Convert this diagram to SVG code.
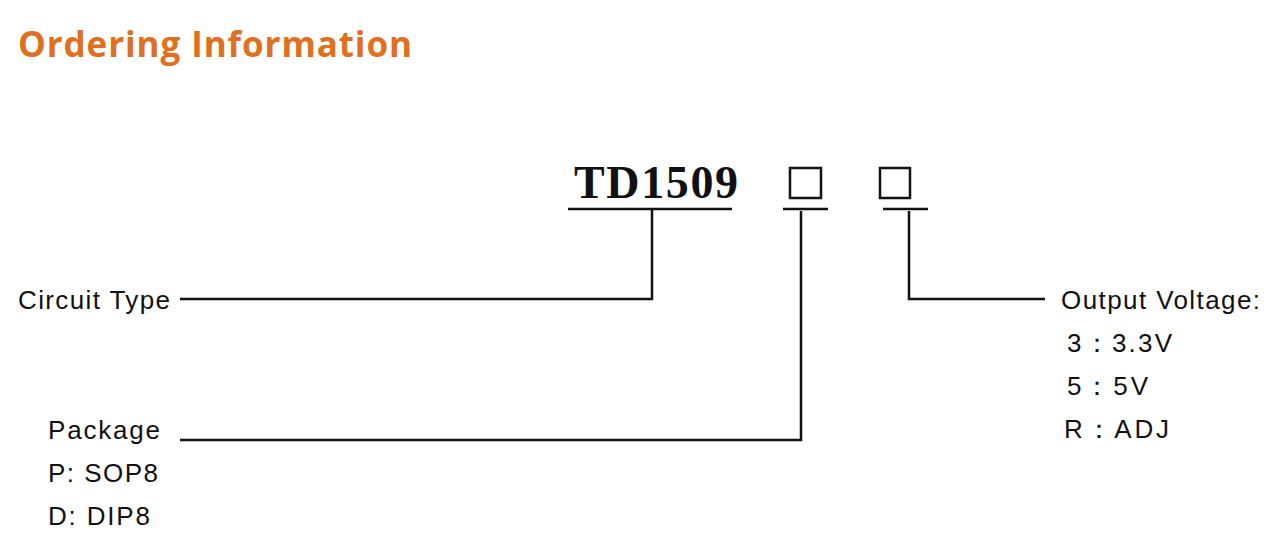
<svg xmlns="http://www.w3.org/2000/svg" width="1280" height="550" viewBox="0 0 1280 550">
<style>
.l{font-family:"Liberation Sans",Arial,sans-serif;font-size:26px;fill:#111}
.w{stroke:#111;stroke-width:2.5;fill:none}
</style>
<rect width="1280" height="550" fill="#fff"/>
<text x="18" y="57" font-family="'Open Sans',sans-serif" font-weight="bold" font-size="35" fill="#E07020" textLength="394">Ordering Information</text>
<g id="part">
<text x="574" y="198" font-family="'Liberation Serif',serif" font-weight="bold" font-size="46" fill="#111" textLength="164">TD1509</text>
<rect class="w" x="790" y="168" width="31" height="30"/>
<rect class="w" x="880" y="168" width="30" height="30"/>
</g>
<g id="circuit"><text class="l" x="18" y="309" textLength="152">Circuit Type</text></g>
<g id="package"><text class="l" x="48" y="439" textLength="112">Package</text><text class="l" x="48" y="482" textLength="110">P: SOP8</text><text class="l" x="48" y="525" textLength="102">D: DIP8</text></g>
<g id="voltage"><text class="l" x="1061" y="309" textLength="199">Output Voltage:</text>
<text class="l" x="1067" y="352" textLength="105">3：3.3V</text><text class="l" x="1067" y="395" textLength="81">5：5V</text><text class="l" x="1064" y="438" textLength="105">R：ADJ</text></g>
<g id="connectors" class="w">
<path d="M568 209H732M652 209V299H180"/>
<path d="M783 209H828M801 211V440H180"/>
<path d="M883 209H928M909 211V299H1045"/>
</g>
</svg>
